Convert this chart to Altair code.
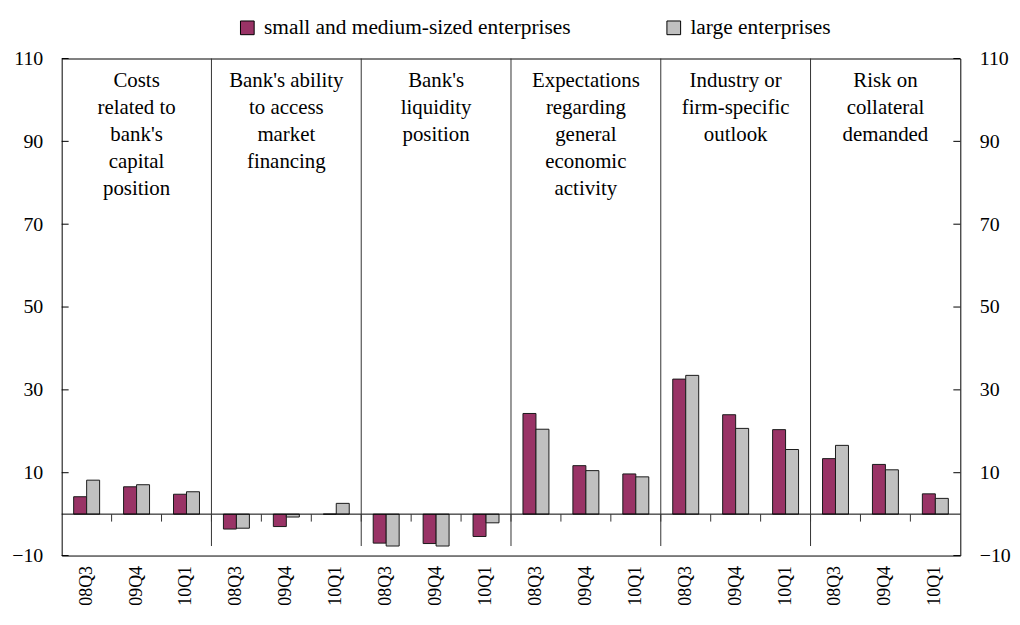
import altair as alt
import pandas as pd

quarters = ["08Q3", "09Q4", "10Q1"]
panels = [
    "Costs\nrelated to\nbank's\ncapital\nposition",
    "Bank's ability\nto access\nmarket\nfinancing",
    "Bank's\nliquidity\nposition",
    "Expectations\nregarding\ngeneral\neconomic\nactivity",
    "Industry or\nfirm-specific\noutlook",
    "Risk on\ncollateral\ndemanded",
]
series = ["small and medium-sized enterprises", "large enterprises"]
sme = [4.2, 6.6, 4.8, -3.6, -3.0, 0.0, -7.0, -7.1, -5.4, 24.3, 11.7, 9.7, 32.6, 24.0, 20.4, 13.4, 12.0, 4.9]
large = [8.2, 7.1, 5.4, -3.4, -0.7, 2.6, -7.7, -7.7, -2.1, 20.5, 10.5, 9.0, 33.5, 20.7, 15.6, 16.6, 10.7, 3.8]
y_ticks = [-10, 10, 30, 50, 70, 90, 110]
colors = ["#993366", "#C0C0C0"]

FONT = "Liberation Serif"
W, H = 904, 500
nq = len(quarters)
ncat = nq * len(panels)

keys = [f"{p}-{q}" for p in range(len(panels)) for q in quarters]
rows = []
for i, k in enumerate(keys):
    rows.append({"key": k, "series": series[0], "value": sme[i]})
    rows.append({"key": k, "series": series[1], "value": large[i]})
df = pd.DataFrame(rows)

yscale = alt.Scale(domain=[-10, 110], nice=False)
xq = alt.Scale(domain=[0, ncat], nice=False, zero=False)

bars = alt.Chart(df).mark_bar(stroke="#1a1a1a", strokeWidth=1).encode(
    x=alt.X("key:N", sort=keys,
            scale=alt.Scale(paddingInner=0.48, paddingOuter=0.24),
            axis=alt.Axis(title=None, labelExpr="split(datum.label, '-')[1]",
                          labelAngle=270, labelAlign="right", labelBaseline="middle",
                          labelPadding=10, ticks=False, domain=False,
                          labelFontSize=18, labelFont=FONT, labelColor="black")),
    xOffset=alt.XOffset("series:N", sort=series,
                        scale=alt.Scale(paddingInner=0, paddingOuter=0)),
    y=alt.Y("value:Q", scale=yscale,
            axis=alt.Axis(orient="left", title=None, values=y_ticks, ticks=False,
                          domain=False, grid=False, labelPadding=19,
                          labelFontSize=20, labelFont=FONT, labelColor="black")),
    color=alt.Color("series:N", sort=series,
                    scale=alt.Scale(domain=series, range=colors),
                    legend=alt.Legend(title=None, orient="none", legendX=176, legendY=-42,
                                      direction="horizontal", symbolType="square",
                                      symbolSize=190, symbolStrokeColor="black",
                                      symbolStrokeWidth=1, labelFont=FONT,
                                      labelFontSize=21.5, labelColor="black",
                                      labelLimit=0, labelOffset=6, columnPadding=92)),
)

tick_df = pd.DataFrame({"t": y_ticks})
left_ticks = alt.Chart(tick_df).mark_rule(color="black").encode(
    y=alt.Y("t:Q", scale=yscale, axis=None),
    x=alt.value(0), x2=alt.value(7),
)
right_ticks = alt.Chart(tick_df).mark_rule(color="black").encode(
    y=alt.Y("t:Q", scale=yscale,
            axis=alt.Axis(orient="right", title=None, values=y_ticks, ticks=False,
                          domain=False, grid=False, labelPadding=19,
                          labelFontSize=20, labelFont=FONT, labelColor="black")),
    x=alt.value(W - 7), x2=alt.value(W),
)

zero_line = alt.Chart(pd.DataFrame({"z": [0]})).mark_rule(color="black", strokeWidth=1).encode(
    y=alt.Y("z:Q", scale=yscale, axis=None),
)

sep_df = pd.DataFrame({"x": [(i + 1) * nq for i in range(len(panels) - 1)],
                       "top": 110, "bottom": -7.7})
separators = alt.Chart(sep_df).mark_rule(color="#333", strokeWidth=1).encode(
    x=alt.X("x:Q", scale=xq, axis=None),
    y=alt.Y("top:Q", scale=yscale, axis=None), y2="bottom:Q",
)

ztick_df = pd.DataFrame({"x": list(range(1, ncat)), "top": 0, "bottom": -1.8})
zero_ticks = alt.Chart(ztick_df).mark_rule(color="#333", strokeWidth=1).encode(
    x=alt.X("x:Q", scale=xq, axis=None),
    y=alt.Y("top:Q", scale=yscale, axis=None), y2="bottom:Q",
)

title_df = pd.DataFrame({"label": panels, "x": [i * nq + nq / 2 for i in range(len(panels))]})
titles = alt.Chart(title_df).mark_text(
    font=FONT, fontSize=21, lineBreak="\n", lineHeight=27,
    baseline="top", align="center", color="black",
).encode(
    x=alt.X("x:Q", scale=xq, axis=None),
    y=alt.value(12),
    text="label:N",
)

chart = alt.layer(
    bars, zero_line, zero_ticks, separators, left_ticks, right_ticks, titles
).resolve_scale(x="independent").resolve_axis(y="independent").properties(
    width=W, height=H, autosize="none",
    padding={"left": 54, "top": 49, "right": 52, "bottom": 60},
    background="white",
).configure(font=FONT).configure_view(stroke="black", strokeWidth=1).configure_text(
    font=FONT
).configure_legend(labelFont=FONT)

chart.save("out.html", embed_options={"renderer": "svg", "actions": False})
